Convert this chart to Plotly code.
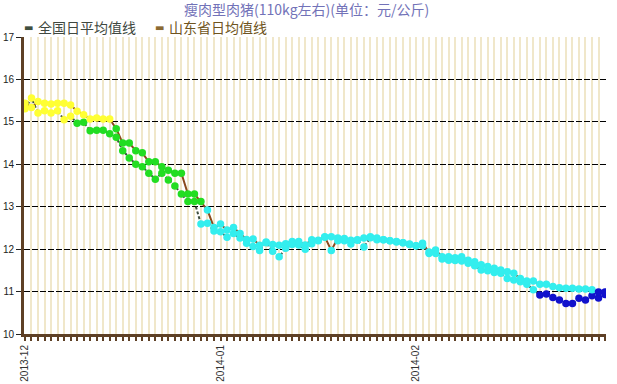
import pandas as pd
import plotly.graph_objects as go

# ---- data -------------------------------------------------------------
dates = [d.strftime("%Y-%m-%d") for d in pd.date_range("2013-12-02", "2014-03-02")
         if d.strftime("%Y-%m-%d") != "2014-01-31"]

national = [15.31, 15.56, 15.21, 15.26, 15.21, 15.26, 15.05, 15.13, 14.97, 14.99,
            14.79, 14.80, 14.80, 14.72, 14.64, 14.32, 14.15, 14.00, 13.94, 13.79,
            13.65, 13.79, 13.63, 13.49, 13.30, 13.12, 13.12, 12.59, 12.61, 12.43,
            12.41, 12.28, 12.37, 12.26, 12.14, 12.06, 11.97, 12.15, 11.95, 11.82,
            12.02, 12.11, 12.10, 12.00, 12.13, 12.20, 12.28, 12.29, 12.20, 12.20,
            12.12, 12.21, 12.05, 12.27, 12.22, 12.22, 12.20, 12.17, 12.15, 12.11,
            12.08, 12.08, 11.90, 11.90, 11.77, 11.74, 11.73, 11.72, 11.67, 11.61,
            11.51, 11.49, 11.45, 11.43, 11.31, 11.27, 11.23, 11.17, 11.04, 10.92,
            10.94, 10.86, 10.80, 10.72, 10.72, 10.84, 10.80, 10.90, 10.85, 10.93]

shandong = [15.44, 15.34, 15.48, 15.44, 15.42, 15.44, 15.44, 15.40, 15.25, 15.17,
            15.07, 15.09, 15.07, 15.07, 14.84, 14.50, 14.50, 14.32, 14.27, 14.06,
            14.06, 13.94, 13.86, 13.79, 13.79, 13.30, 13.30, 13.12, 12.92, 12.51,
            12.59, 12.45, 12.51, 12.37, 12.23, 12.24, 12.09, 12.17, 12.11, 12.09,
            12.13, 12.18, 12.18, 12.10, 12.22, 12.21, 12.29, 11.97, 12.26, 12.25,
            12.21, 12.22, 12.26, 12.29, 12.26, 12.22, 12.20, 12.18, 12.15, 12.12,
            12.08, 12.14, 11.93, 11.98, 11.82, 11.82, 11.80, 11.82, 11.74, 11.70,
            11.63, 11.59, 11.55, 11.51, 11.47, 11.43, 11.31, 11.25, 11.25, 11.17,
            11.17, 11.12, 11.09, 11.08, 11.08, 11.06, 11.06, 11.04, 10.99, 10.99]

month_labels = {"2013-12-02": "2013-12", "2014-01-01": "2014-01", "2014-02-01": "2014-02"}
y_ticks = [10, 11, 12, 13, 14, 15, 16, 17]

series_names = ["全国日平均值线", "山东省日均值线"]
title_text = "瘦肉型肉猪(110kg左右)(单位：元/公斤)"

# ---- styles -----------------------------------------------------------
def band_color(v):
    if v >= 15:
        return "#FFFF33"
    if v >= 13:
        return "#22DD22"
    if v >= 11:
        return "#33EEEE"
    return "#1111CC"

NAT_LINE = "#3F4F3F"
SD_LINE = "#8B4A1C"
AXIS_BROWN = "#5E4026"
CJK = "Noto Sans CJK SC"

fig = go.Figure()
fig.add_trace(go.Scatter(x=dates, y=national, mode="lines", showlegend=False,
                         line=dict(color=NAT_LINE, width=2, dash="3px,2px")))
fig.add_trace(go.Scatter(x=dates, y=shandong, mode="lines", showlegend=False,
                         line=dict(color=SD_LINE, width=2)))
for vals in (national, shandong):
    fig.add_trace(go.Scatter(x=dates, y=vals, mode="markers", showlegend=False,
                             marker=dict(size=7.5, color=[band_color(v) for v in vals],
                                         line=dict(width=0))))

W, H = 617, 384
L, R, T, B = 24, 11, 37, 50
pw = W - L - R
ph = H - T - B

def px_x(px):
    return (px - L) / pw

def px_y(py):
    return 1 + (T - py) / ph

legend_items = [
    (series_names[0], NAT_LINE, "#404840", 22, 36),
    (series_names[1], "#8B6A32", "#6F5420", 153, 167),
]
ann = []
for name, dash_col, txt_col, dx, tx in legend_items:
    ann.append(dict(x=px_x(dx), y=px_y(27.5), xref="paper", yref="paper",
                    xanchor="left", yanchor="middle", showarrow=False,
                    text="▬", font=dict(family="DejaVu Sans", size=10, color=dash_col)))
    ann.append(dict(x=px_x(tx), y=px_y(27), xref="paper", yref="paper",
                    xanchor="left", yanchor="middle", showarrow=False,
                    text=name, font=dict(family=CJK, size=14, color=txt_col)))

fig.update_layout(
    width=W, height=H, autosize=False,
    margin=dict(l=L, r=R, t=T, b=B, pad=0),
    paper_bgcolor="white", plot_bgcolor="white",
    showlegend=False,
    title=dict(text=title_text, x=0.497, xanchor="center", y=1 - 10 / H, yanchor="middle",
               font=dict(family=CJK, size=14, color="#7272B8")),
    annotations=ann,
    hovermode=False,
)

fig.update_xaxes(
    type="category", range=[-0.15, len(dates) - 0.85], automargin=False,
    tickmode="array", tickvals=dates,
    ticktext=[month_labels.get(d, "") for d in dates],
    tickangle=-90, tickfont=dict(family="Liberation Sans", size=10, color="#333333"),
    ticks="outside", ticklen=4, tickwidth=2, tickcolor=AXIS_BROWN,
    showgrid=True, gridcolor="#F0E7CA", gridwidth=1.5,
    showline=True, linecolor=AXIS_BROWN, linewidth=3,
    zeroline=False, fixedrange=True,
)
fig.update_yaxes(
    range=[10, 17], tickvals=y_ticks, ticktext=[str(v) for v in y_ticks], automargin=False,
    tickfont=dict(family="Liberation Sans", size=10, color="#222222"),
    ticks="outside", ticklen=5, tickwidth=1, tickcolor="#222222",
    showgrid=True, gridcolor="#000000", gridwidth=1, griddash="6px,2px",
    showline=True, linecolor=AXIS_BROWN, linewidth=3,
    zeroline=False, fixedrange=True,
)

fig.write_html("out.html", config={"displayModeBar": False})
